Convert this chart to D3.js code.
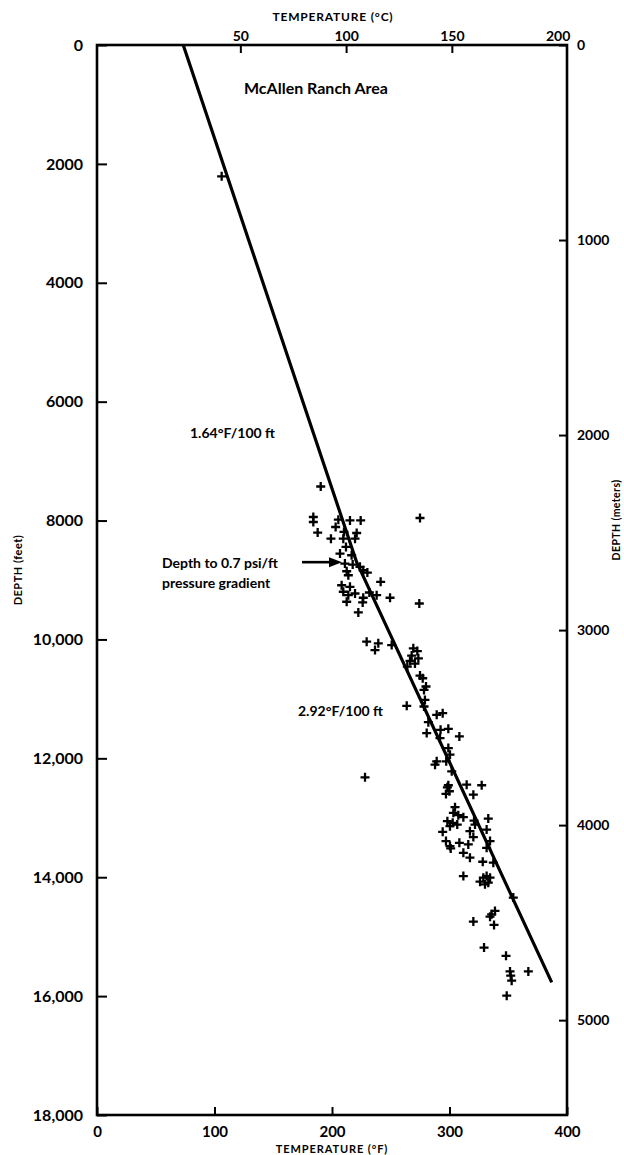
<!DOCTYPE html>
<html><head><meta charset="utf-8">
<script src="https://cdn.jsdelivr.net/npm/d3@7"></script>
<style>
html,body{margin:0;padding:0;background:#fff;}
svg{display:block;font-family:Lato,"DejaVu Sans",sans-serif;}
</style></head><body>
<svg id="chart" width="624" height="1155"></svg>
<script>
// ---- data ----
const tempTicksF = [0, 100, 200, 300, 400];
const tempTicksC = [50, 100, 150, 200];
const depthTicksFt = [0, 2000, 4000, 6000, 8000, 10000, 12000, 14000, 16000, 18000];
const depthTicksM = [0, 1000, 2000, 3000, 4000, 5000];

const trendTempF = [73.4, 221, 387];
const trendDepthFt = [0, 8700, 15770];

const pressureDepthFt = 8700;

const wellTempF = [
  106.1, 190.4, 184.1, 184.1, 187.8, 199.1, 205.4, 203.1, 215.3, 224.4,
  210.2, 221.0, 219.6, 209.6, 211.9, 206.8, 216.7, 211.0, 217.6, 212.5,
  213.9, 223.8, 230.1, 226.6, 241.4, 208.2, 215.3, 209.6, 213.9, 219.6,
  226.6, 231.8, 238.0, 226.1, 212.5, 249.4, 274.3, 274.9, 222.4, 229.5,
  239.4, 236.6, 250.8, 269.2, 272.6, 267.8, 273.5, 266.4, 270.6, 264.1,
  274.9, 277.2, 280.0, 278.3, 279.1, 263.6, 278.3, 289.1, 294.2, 282.0,
  280.6, 292.4, 299.0, 308.4, 291.9, 299.0, 300.4, 297.2, 289.1, 287.7,
  301.9, 228.1, 299.0, 314.6, 327.4, 298.2, 299.9, 297.0, 320.3, 304.7,
  303.3, 307.5, 311.8, 298.2, 302.7, 306.6, 300.4, 320.9, 333.0, 317.4,
  321.7, 331.6, 294.2, 320.3, 334.5, 297.0, 300.4, 301.0, 308.4, 316.0,
  331.6, 311.8, 317.4, 328.3, 337.3, 311.8, 328.8, 331.6, 326.0, 330.2,
  333.0, 334.5, 354.3, 338.7, 335.9, 334.5, 337.9, 320.3, 329.4, 348.1,
  367.1, 351.5, 352.1, 352.9, 348.7
];
const wellDepthFt = [
  2209, 7427, 7940, 8024, 8203, 8304, 7985, 8108, 7997, 7997,
  8192, 8209, 8304, 8304, 8443, 8556, 8584, 8724, 8740, 8853,
  8920, 8779, 8875, 8836, 9031, 9088, 9115, 9198, 9255, 9227,
  9299, 9210, 9255, 9378, 9366, 9299, 9395, 7957, 9546, 10037,
  10066, 10178, 10094, 10149, 10195, 10272, 10317, 10362, 10406, 10456,
  10607, 10653, 10792, 10849, 11017, 11117, 11128, 11268, 11240, 11391,
  11575, 11520, 11503, 11631, 11659, 11827, 11939, 12050, 12050, 12107,
  12218, 12319, 12453, 12443, 12453, 12487, 12554, 12599, 12611, 12822,
  12917, 12956, 12990, 13057, 13085, 13114, 13141, 13047, 13013, 13225,
  13114, 13198, 13236, 13325, 13392, 13392, 13476, 13516, 13421, 13449,
  13505, 13589, 13672, 13740, 13756, 13980, 14008, 13980, 14075, 14120,
  14092, 14008, 14343, 14567, 14624, 14663, 14802, 14746, 15183, 15322,
  15585, 15585, 15657, 15741, 15993
];

// ---- layout ----
const L = 97, R = 567, T = 45, B = 1115;
const svg = d3.select("#chart");

const x = d3.scaleLinear().domain([0, 400]).range([L, R]);
const y = d3.scaleLinear().domain([0, 18000]).range([T, B]);
const xC = d3.scaleLinear().domain([(0 - 32) / 1.8, (400 - 32) / 1.8]).range([L, R]);
const yM = d3.scaleLinear().domain([0, 18000 * 0.3048]).range([T, B]);

function styleAxis(g, size) {
  g.select(".domain").remove();
  g.selectAll(".tick line").attr("stroke", "#000").attr("stroke-width", 2);
  g.selectAll(".tick text").attr("fill", "#000").attr("font-weight", 700)
    .attr("font-size", size).attr("font-family", "Lato, 'DejaVu Sans', sans-serif");
}

const fmtFt = d => d >= 10000 ? d3.format(",")(d) : String(d);
const fmtPlain = d3.format("d");

svg.append("g").attr("transform", `translate(${L},0)`)
  .call(d3.axisLeft(y).tickValues(depthTicksFt).tickSize(-10).tickPadding(14).tickFormat(fmtFt))
  .call(g => styleAxis(g, 16));

svg.append("g").attr("transform", `translate(0,${B})`)
  .call(d3.axisBottom(x).tickValues(tempTicksF).tickSize(-8).tickPadding(11).tickFormat(fmtPlain))
  .call(g => styleAxis(g, 15));

svg.append("g").attr("transform", `translate(${R},0)`)
  .call(d3.axisRight(yM).tickValues(depthTicksM).tickSize(-8).tickPadding(10).tickFormat(fmtPlain))
  .call(g => styleAxis(g, 14));

svg.append("g").attr("transform", `translate(0,${T})`)
  .call(d3.axisTop(xC).tickValues(tempTicksC).tickSize(-8).tickPadding(4).tickFormat(fmtPlain))
  .call(g => {
    styleAxis(g, 14);
    g.selectAll(".tick").filter(d => d === 200).select("line").remove();
  });

// frame
svg.append("rect").attr("x", L).attr("y", T).attr("width", R - L).attr("height", B - T)
  .attr("fill", "none").attr("stroke", "#000").attr("stroke-width", 2.6);

// axis titles
svg.append("text").attr("x", 333).attr("y", 21).attr("text-anchor", "middle")
  .attr("font-size", 12).attr("font-weight", 700).attr("letter-spacing", 0.8)
  .text("TEMPERATURE (°C)");
svg.append("text").attr("x", 332).attr("y", 1153).attr("text-anchor", "middle")
  .attr("font-size", 11).attr("font-weight", 700).attr("letter-spacing", 0.9)
  .text("TEMPERATURE (°F)");
svg.append("text").attr("transform", "translate(22,570) rotate(-90)").attr("text-anchor", "middle")
  .attr("font-size", 11).attr("font-weight", 700).attr("letter-spacing", 0.5)
  .text("DEPTH (feet)");
svg.append("text").attr("transform", "translate(620,520) rotate(-90)").attr("text-anchor", "middle")
  .attr("font-size", 10.5).attr("font-weight", 700).attr("letter-spacing", 0.4)
  .text("DEPTH (meters)");

// trend line
const pts = trendTempF.map((t, i) => [t, trendDepthFt[i]]);
svg.append("path").datum(pts)
  .attr("d", d3.line().x(d => x(d[0])).y(d => y(d[1])))
  .attr("fill", "none").attr("stroke", "#000").attr("stroke-width", 3.2)
  .attr("stroke-linejoin", "round");

// data points
const wells = wellTempF.map((t, i) => ({t, d: wellDepthFt[i]}));
svg.append("g").selectAll("path").data(wells).join("path")
  .attr("transform", d => `translate(${x(d.t)},${y(d.d)})`)
  .attr("d", "M-4.5,0H4.5M0,-4.5V4.5")
  .attr("stroke", "#000").attr("stroke-width", 2.3).attr("fill", "none");

// annotations
function label(txt, px, py, size) {
  svg.append("text").attr("x", px).attr("y", py).attr("font-size", size)
    .attr("font-weight", 700).attr("fill", "#000").text(txt);
}
label("McAllen Ranch Area", 244, 94, 16);
label("1.64°F/100 ft", 190, 438, 14);
label("Depth to 0.7 psi/ft", 162, 568, 14);
label("pressure gradient", 162, 588, 14);
label("2.92°F/100 ft", 298, 716, 14);

// arrow
const ay = y(pressureDepthFt);
const ax0 = x(174.5), ax1 = x(208.5);
svg.append("line").attr("x1", ax0).attr("x2", ax1 - 10).attr("y1", ay).attr("y2", ay)
  .attr("stroke", "#000").attr("stroke-width", 2.6);
svg.append("path").attr("d", `M${ax1},${ay}L${ax1 - 13},${ay - 5}L${ax1 - 13},${ay + 5}Z`)
  .attr("fill", "#000");
</script>
</body></html>
